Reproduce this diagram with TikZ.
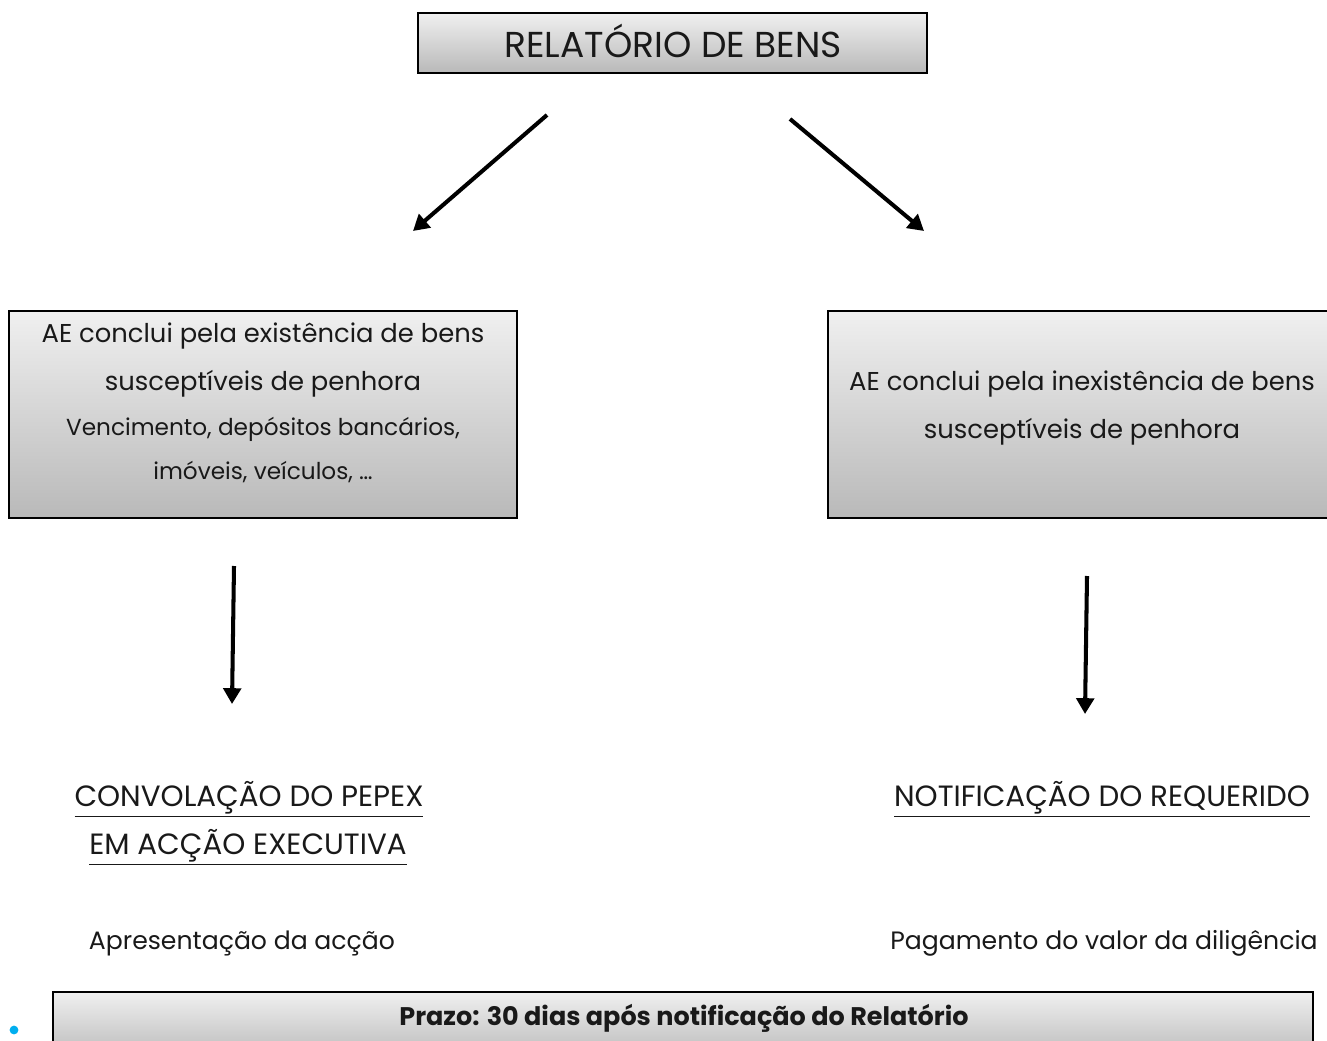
\documentclass[tikz,border=0pt]{standalone}
\usepackage{fontspec}
\setmainfont{Poppins}
\usetikzlibrary{arrows.meta}

\definecolor{bulletblue}{HTML}{00AEEF}

\tikzset{
	box/.style = {draw = black, line width = 0.8pt, top color = gray!12, bottom color = gray!55, inner sep = 0pt},
	arr/.style = {line width = 2.3pt, -{Triangle[length=9pt, width=10pt]}},
	txt/.style = {inner sep = 0pt, text = black!90}
}

\begin{document}
\begin{tikzpicture}[x = 0.02cm, y = -0.02cm]

	\clip (0, 0) rectangle (1327, 1040);

	% Top box
	
	\node (relatorio) [box, minimum width = 10.18cm, minimum height = 1.2cm] at (672.5, 43) {};
	\node (titulo) [txt, font = \fontsize{20.5}{24}\selectfont] at (673, 41) {RELATÓRIO DE BENS};
	
	% Left box
	
	\node (existencia) [box, minimum width = 10.16cm, minimum height = 4.14cm] at (263, 414.5) {};
	\node (ex1) [txt, font = \fontsize{14.7}{17}\selectfont] at (263, 336) {AE conclui pela existência de bens};
	\node (ex2) [txt, font = \fontsize{14.7}{17}\selectfont] at (263, 384) {susceptíveis de penhora};
	\node (ex3) [txt, font = \fontsize{13.2}{15}\selectfont] at (263, 429) {Vencimento, depósitos bancários,};
	\node (ex4) [txt, font = \fontsize{13.2}{15}\selectfont] at (263, 472) {imóveis, veículos, \dots};
	
	% Right box
	
	\node (inexistencia) [box, minimum width = 10.24cm, minimum height = 4.14cm] at (1084, 414.5) {};
	\node (in1) [txt, font = \fontsize{14.7}{17}\selectfont] at (1082, 384) {AE conclui pela inexistência de bens};
	\node (in2) [txt, font = \fontsize{14.7}{17}\selectfont] at (1082, 432) {susceptíveis de penhora};
	
	% Arrows
	
	\coordinate (a1) at (547, 115);
	\coordinate (b1) at (413, 231);
	\coordinate (a2) at (790, 119);
	\coordinate (b2) at (924, 231);
	\coordinate (a3) at (234, 566);
	\coordinate (b3) at (232, 704);
	\coordinate (a4) at (1087, 576);
	\coordinate (b4) at (1085, 714);
	
	\draw [arr] (a1) -- (b1);
	\draw [arr] (a2) -- (b2);
	\draw [arr] (a3) -- (b3);
	\draw [arr] (a4) -- (b4);
	
	% Results
	
	\node (convolacao) [txt, font = \fontsize{16.7}{19}\selectfont] at (249, 799) {\underline{CONVOLAÇÃO DO PEPEX}};
	\node (accao) [txt, font = \fontsize{16.7}{19}\selectfont] at (248, 847) {\underline{EM ACÇÃO EXECUTIVA}};
	\node (apresentacao) [txt, font = \fontsize{14.3}{17}\selectfont] at (242, 943) {Apresentação da acção};
	
	\node (notificacao) [txt, font = \fontsize{16.7}{19}\selectfont] at (1102, 799) {\underline{NOTIFICAÇÃO DO REQUERIDO}};
	\node (pagamento) [txt, font = \fontsize{14.3}{17}\selectfont] at (1104, 943) {Pagamento do valor da diligência};
	
	% Deadline
	
	\fill [bulletblue] (14, 1030) circle (2.5pt);
	\node (prazo) [box, minimum width = 25.2cm, minimum height = 1.36cm] at (683, 1026) {};
	\node (prazotxt) [txt, font = \fontsize{14.5}{17}\selectfont\bfseries] at (684, 1018) {Prazo: 30 dias após notificação do Relatório};

\end{tikzpicture}
\end{document}
